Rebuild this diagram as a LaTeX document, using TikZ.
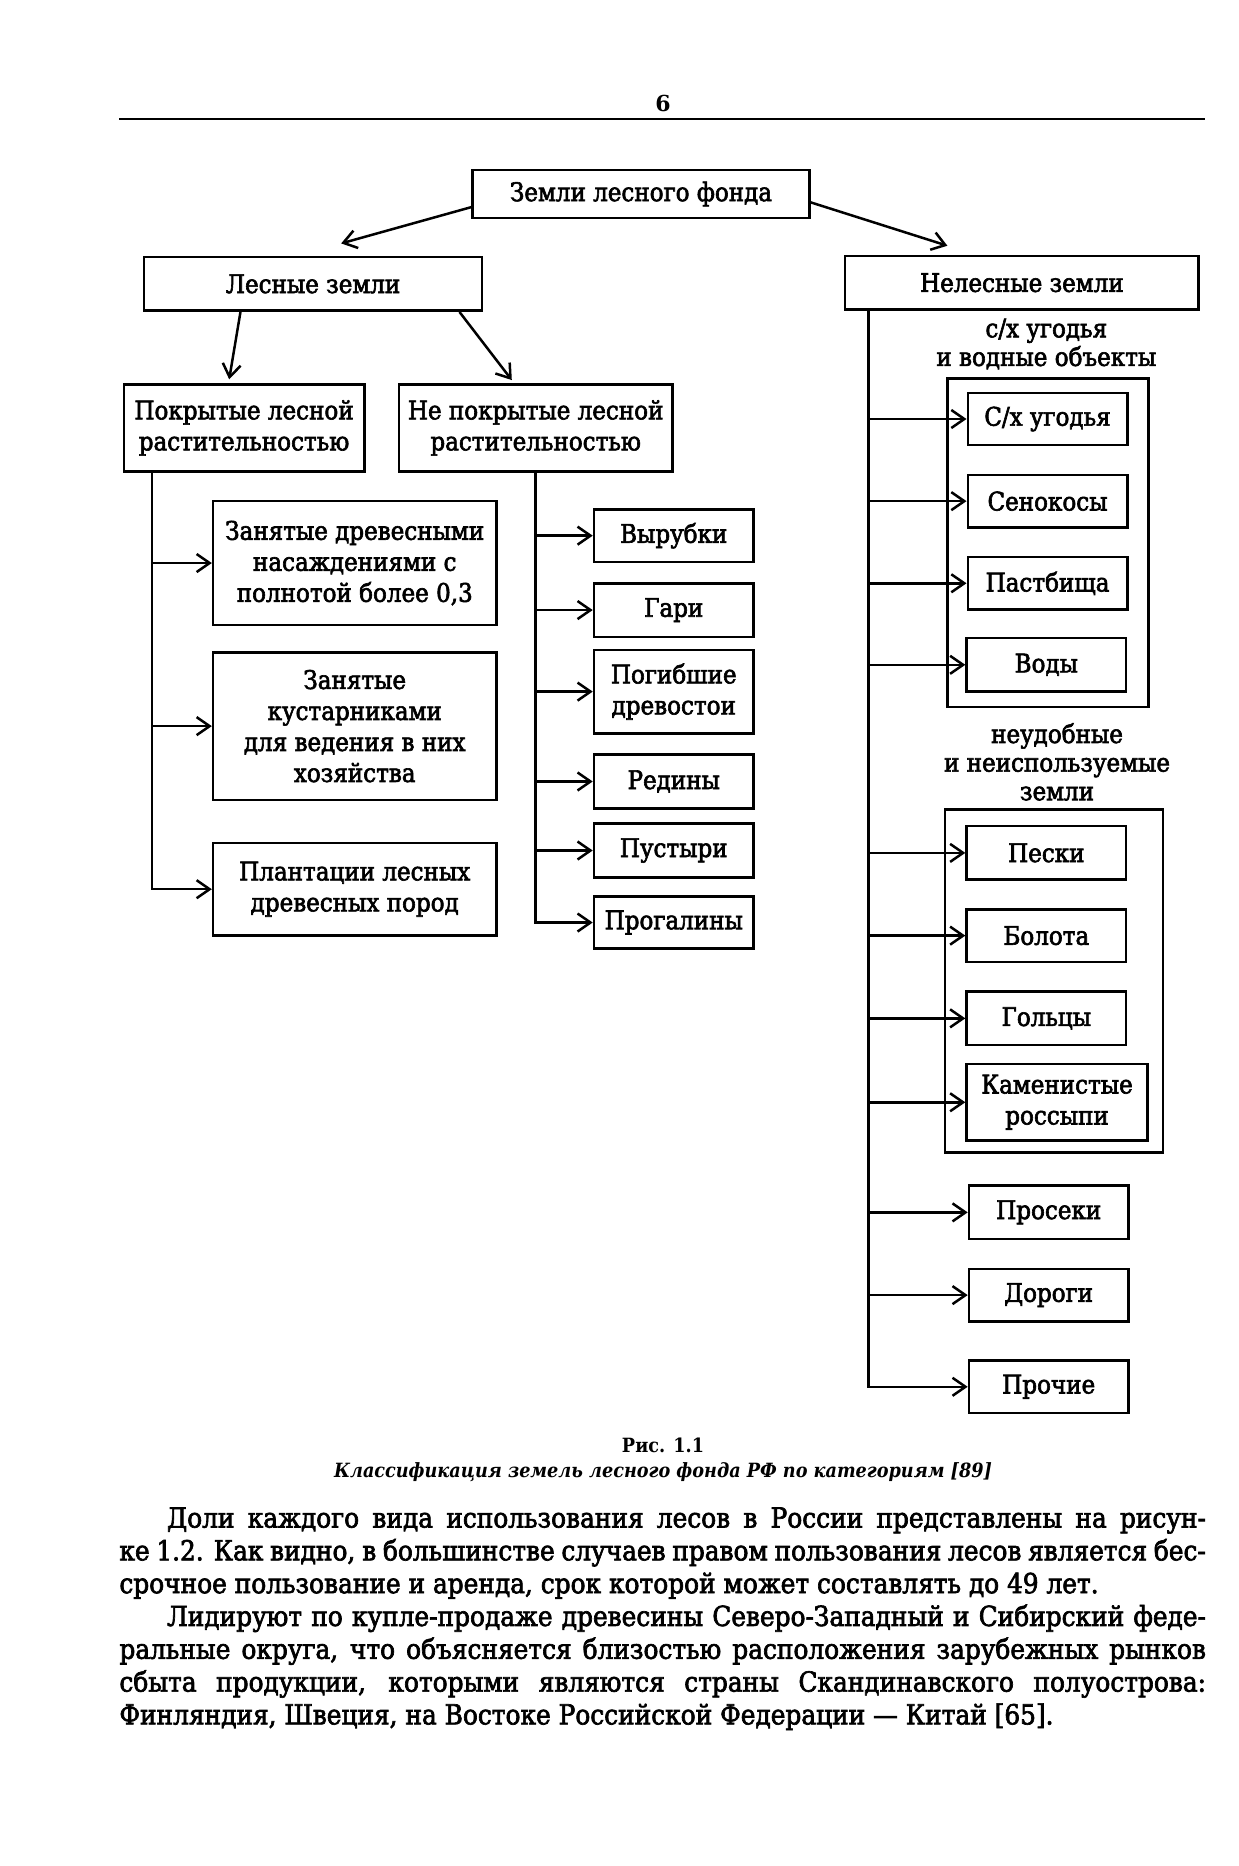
\documentclass[tikz,border=0pt]{standalone}
\usepackage{fontspec}
\setmainfont{DejaVu Serif}
\newfontfamily\capfont{DejaVu Serif Condensed}
\newfontfamily\heavy[RawFeature={embolden=2.4}]{DejaVu Serif Condensed}
\usetikzlibrary{arrows.meta,fit}
\newcommand\pxu{*0.595pt}
\newcommand\B[6]{\node[box, minimum width={(#4-#2)*0.595pt}, minimum height={(#5-#3)*0.595pt}] (#1) at ({(#2+#4)/2},{(#3+#5)/2}) {#6};}
\begin{document}
\begin{tikzpicture}[x=0.595pt,y=-0.595pt,
  box/.style={draw,line width=1.25pt,inner sep=0pt,align=center,font=\heavy\fontsize{12.8}{15.5}\selectfont},
  grp/.style={draw,line width=1.25pt,inner sep=0pt},
  lbl/.style={align=center,inner sep=0pt,font=\heavy\fontsize{12.8}{14.3}\selectfont},
  arr/.style={line width=1.25pt,-{Straight Barb[length=6.5pt,width=9pt]}},
  plain/.style={inner sep=0pt}]
\fill[white] (0,0) rectangle (1040.3,1567.6);
\useasboundingbox (0,0) rectangle (1040.3,1567.6);
% header
\node[plain,font=\bfseries\fontsize{11}{13}\selectfont] (pnum) at (557,87) {6};
\draw[line width=1.3pt] (100,100) -- (1012,100);
% top level
\B{top}{397}{143}{680}{183}{Земли лесного фонда}
\B{les}{121}{216}{405}{261}{Лесные земли}
\B{neles}{710}{215}{1007}{260}{Нелесные земли}
\B{pok}{104}{323}{306}{396}{Покрытые лесной\\растительностью}
\B{nepok}{335}{323}{565}{396}{Не покрытые лесной\\растительностью}
% left column
\B{z1}{179}{421}{417}{525}{Занятые древесными\\насаждениями с\\полнотой более 0,3}
\B{z2}{179}{548}{417}{672}{Занятые\\кустарниками\\для ведения в них\\хозяйства}
\B{z3}{179}{708}{417}{786}{Плантации лесных\\древесных пород}
% middle column
\B{n1}{499}{428}{633}{472}{Вырубки}
\B{n2}{499}{490}{633}{535}{Гари}
\B{n3}{499}{546}{633}{616}{Погибшие\\древостои}
\B{n4}{499}{634}{633}{679}{Редины}
\B{n5}{499}{692}{633}{737}{Пустыри}
\B{n6}{499}{753}{633}{797}{Прогалины}
% right column
\node[lbl] (l1) at (879,289) {с/х угодья\\и водные объекты};
\node[grp, fit={(796,318)(965,594)}] (g1) {};
\B{r1}{813}{330}{947}{374}{С/х угодья}
\B{r2}{813}{399}{947}{443}{Сенокосы}
\B{r3}{813}{468}{947}{512}{Пастбища}
\B{r4}{812}{536}{946}{581}{Воды}
\node[lbl] (l2) at (888,640) {неудобные\\и неиспользуемые\\земли};
\node[grp, fit={(794,680)(977,968)}] (g2) {};
\B{r5}{812}{694}{946}{739}{Пески}
\B{r6}{812}{764}{946}{808}{Болота}
\B{r7}{812}{833}{946}{878}{Гольцы}
\B{r8}{812}{894}{964}{958}{Каменистые\\россыпи}
\B{r9}{814}{996}{948}{1041}{Просеки}
\B{r10}{814}{1066}{948}{1110}{Дороги}
\B{r11}{814}{1143}{948}{1187}{Прочие}
% connectors top
\draw[arr,shorten >=1pt] ([yshift=-11\pxu]top.west) -- ([xshift=22\pxu,yshift=10\pxu]les.north);
\draw[arr,shorten >=1pt] ([yshift=-7\pxu]top.east) -- ([xshift=-61\pxu,yshift=7\pxu]neles.north);
\draw[arr,shorten >=2pt] ([xshift=-61\pxu]les.south) -- ([xshift=-13\pxu]pok.north);
\draw[arr,shorten >=2pt] ([xshift=123\pxu]les.south) -- ([xshift=-18\pxu]nepok.north);
% left trunk
\foreach \t in {z1,z2,z3}
  \draw[arr] ([xshift=-77.5\pxu]pok.south) |- (\t.west);
% middle trunk
\foreach \t in {n1,n2,n3,n4,n5,n6}
  \draw[arr] (nepok.south) |- (\t.west);
% right trunk
\foreach \t in {r1,r2,r3,r4,r5,r6,r7,r8,r9,r10,r11}
  \draw[arr] ([xshift=-129\pxu]neles.south) |- (\t.west);
% caption
\node[plain,font=\capfont\bfseries\fontsize{9.8}{12}\selectfont] (fig) at (557,1214) {Рис. 1.1};
\node[plain,font=\capfont\bfseries\itshape\fontsize{9.8}{12}\selectfont] (cap) at (557,1237) {Классификация земель лесного фонда РФ по категориям [89]};
% paragraph
\node[plain,anchor=north west,align=left,font=\heavy\fontsize{13.8}{16.4}\selectfont] (para) at (100,1266) {%
\makebox[543pt][s]{\hspace*{23.8pt}Доли каждого вида использования лесов в России представлены на рисун-}\\
\makebox[543pt][s]{ке 1.2. Как видно, в большинстве случаев правом пользования лесов является бес-}\\
срочное пользование и аренда, срок которой может составлять до 49 лет.\\
\makebox[543pt][s]{\hspace*{23.8pt}Лидируют по купле-продаже древесины Северо-Западный и Сибирский феде-}\\
\makebox[543pt][s]{ральные округа, что объясняется близостью расположения зарубежных рынков}\\
\makebox[543pt][s]{сбыта продукции, которыми являются страны Скандинавского полуострова:}\\
Финляндия, Швеция, на Востоке Российской Федерации — Китай [65].};
\end{tikzpicture}
\end{document}
